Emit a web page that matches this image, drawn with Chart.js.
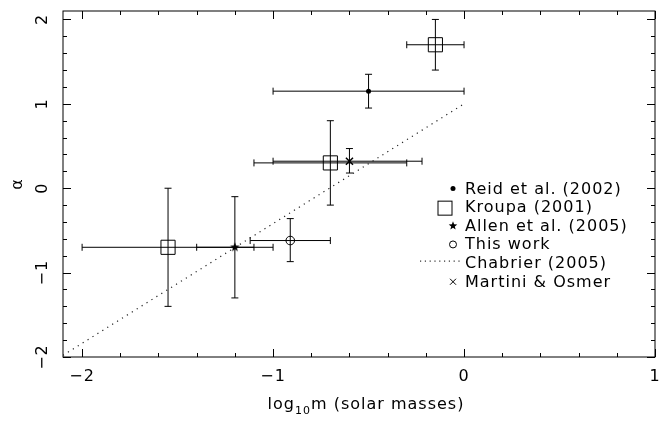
<!DOCTYPE html>
<html>
<head>
<meta charset="utf-8">
<script src="https://cdn.jsdelivr.net/npm/chart.js@4"></script>
<style>
  html, body { margin: 0; padding: 0; background: #fff; }
  canvas { display: block; }
</style>
</head>
<body>
<canvas id="imfChart" width="672" height="425"></canvas>
<script>
// x = log10 m (solar masses), y = alpha; Lo/Hi are the error bar ends
const reidX = [-0.5], reidY = [1.15];
const reidXLo = [-1.0], reidXHi = [0.0], reidYLo = [0.95], reidYHi = [1.35];

const kroupaX = [-1.55, -0.7, -0.15], kroupaY = [-0.7, 0.3, 1.7];
const kroupaXLo = [-2.0, -1.1, -0.3], kroupaXHi = [-1.1, -0.3, 0.0];
const kroupaYLo = [-1.4, -0.2, 1.4], kroupaYHi = [0.0, 0.8, 2.0];

const allenX = [-1.2], allenY = [-0.7];
const allenXLo = [-1.4], allenXHi = [-1.0], allenYLo = [-1.3], allenYHi = [-0.1];

const thisWorkX = [-0.91], thisWorkY = [-0.62];
const thisWorkXLo = [-1.12], thisWorkXHi = [-0.70], thisWorkYLo = [-0.87], thisWorkYHi = [-0.36];

const chabrierX = [-2.1, 0.0], chabrierY = [-1.98, 1.0];

const martiniX = [-0.6], martiniY = [0.32];
const martiniXLo = [-1.0], martiniXHi = [-0.22], martiniYLo = [0.18], martiniYHi = [0.47];

const xTickValues = [-2, -1, 0, 1];
const yTickValues = [-2, -1, 0, 1, 2];
const legendLabels = ['Reid et al. (2002)', 'Kroupa (2001)', 'Allen et al. (2005)', 'This work', 'Chabrier (2005)', 'Martini & Osmer'];

const FONT = '"DejaVu Sans", sans-serif';

function toPoints(xs, ys) {
  return xs.map((x, i) => ({ x: x, y: ys[i] }));
}

function makeStar(r) {
  const c = document.createElement('canvas');
  c.width = c.height = Math.ceil(r * 2 + 2);
  const g = c.getContext('2d');
  drawStar(g, c.width / 2, c.height / 2, r);
  return c;
}

function drawStar(g, cx, cy, r) {
  g.beginPath();
  for (let i = 0; i < 10; i++) {
    const rr = i % 2 === 0 ? r : r * 0.42;
    const a = -Math.PI / 2 + i * Math.PI / 5;
    g.lineTo(cx + rr * Math.cos(a), cy + rr * Math.sin(a));
  }
  g.closePath();
  g.fillStyle = '#000';
  g.fill();
}

// error bars, indexed by dataset
const errorBars = [
  { xLo: reidXLo, xHi: reidXHi, yLo: reidYLo, yHi: reidYHi },
  { xLo: kroupaXLo, xHi: kroupaXHi, yLo: kroupaYLo, yHi: kroupaYHi },
  { xLo: allenXLo, xHi: allenXHi, yLo: allenYLo, yHi: allenYHi },
  { xLo: thisWorkXLo, xHi: thisWorkXHi, yLo: thisWorkYLo, yHi: thisWorkYHi },
  null,
  { xLo: martiniXLo, xHi: martiniXHi, yLo: martiniYLo, yHi: martiniYHi }
];

const errorBarPlugin = {
  id: 'errorBars',
  beforeDatasetsDraw(chart) {
    const ctx = chart.ctx;
    const xs = chart.scales.x, ys = chart.scales.y;
    const cap = 3.5;
    ctx.save();
    ctx.strokeStyle = '#000';
    ctx.lineWidth = 1;
    chart.data.datasets.forEach((ds, di) => {
      const eb = errorBars[di];
      if (!eb) return;
      ds.data.forEach((p, i) => {
        const px = xs.getPixelForValue(p.x), py = ys.getPixelForValue(p.y);
        const x0 = xs.getPixelForValue(eb.xLo[i]), x1 = xs.getPixelForValue(eb.xHi[i]);
        const y0 = ys.getPixelForValue(eb.yLo[i]), y1 = ys.getPixelForValue(eb.yHi[i]);
        ctx.beginPath();
        ctx.moveTo(x0, py); ctx.lineTo(x1, py);
        ctx.moveTo(x0, py - cap); ctx.lineTo(x0, py + cap);
        ctx.moveTo(x1, py - cap); ctx.lineTo(x1, py + cap);
        ctx.moveTo(px, y0); ctx.lineTo(px, y1);
        ctx.moveTo(px - cap, y0); ctx.lineTo(px + cap, y0);
        ctx.moveTo(px - cap, y1); ctx.lineTo(px + cap, y1);
        ctx.stroke();
      });
    });
    ctx.restore();
  }
};

const framePlugin = {
  id: 'frame',
  afterDraw(chart) {
    const ctx = chart.ctx;
    const a = chart.chartArea;
    const xs = chart.scales.x, ys = chart.scales.y;
    ctx.save();
    ctx.strokeStyle = '#000';
    ctx.lineWidth = 1;
    ctx.strokeRect(a.left, a.top, a.right - a.left, a.bottom - a.top);

    // inward ticks on all four sides
    ctx.beginPath();
    for (let i = -10; i <= 5; i++) {
      const v = i * 0.2;
      if (v < xs.min - 1e-9 || v > xs.max + 1e-9) continue;
      const len = i % 5 === 0 ? 8 : 4;
      const px = Math.round(xs.getPixelForValue(v)) + 0.5;
      ctx.moveTo(px, a.bottom); ctx.lineTo(px, a.bottom - len);
      ctx.moveTo(px, a.top); ctx.lineTo(px, a.top + len);
    }
    for (let i = -10; i <= 10; i++) {
      const v = i * 0.2;
      if (v < ys.min - 1e-9 || v > ys.max + 1e-9) continue;
      const len = i % 5 === 0 ? 8 : 4;
      const py = Math.round(ys.getPixelForValue(v)) + 0.5;
      ctx.moveTo(a.left, py); ctx.lineTo(a.left + len, py);
      ctx.moveTo(a.right, py); ctx.lineTo(a.right - len, py);
    }
    ctx.stroke();

    ctx.fillStyle = '#000';
    ctx.font = '16px ' + FONT;
    ctx.letterSpacing = '1px';
    ctx.textAlign = 'center';
    ctx.textBaseline = 'alphabetic';
    xTickValues.forEach(v => {
      const label = v < 0 ? '\u2212' + Math.abs(v) : String(v);
      ctx.fillText(label, xs.getPixelForValue(v), 381);
    });
    // y tick labels, rotated like the original
    yTickValues.forEach(v => {
      const label = v < 0 ? '\u2212' + Math.abs(v) : String(v);
      ctx.save();
      ctx.translate(43, ys.getPixelForValue(v));
      ctx.rotate(-Math.PI / 2);
      ctx.textBaseline = 'middle';
      ctx.fillText(label, 0, 0);
      ctx.restore();
    });

    // axis titles
    ctx.save();
    ctx.translate(18, (a.top + a.bottom) / 2);
    ctx.rotate(-Math.PI / 2);
    ctx.textBaseline = 'middle';
    ctx.fillText('\u03b1', 0, 0);
    ctx.restore();

    const partA = 'log', partB = '10', partC = 'm (solar masses)';
    ctx.textAlign = 'left';
    ctx.font = '16px ' + FONT;
    const wA = ctx.measureText(partA).width, wC = ctx.measureText(partC).width;
    ctx.font = '11px ' + FONT;
    const wB = ctx.measureText(partB).width;
    let tx = 366 - (wA + wB + wC) / 2;
    ctx.font = '16px ' + FONT;
    ctx.fillText(partA, tx, 409);
    tx += wA;
    ctx.font = '11px ' + FONT;
    ctx.fillText(partB, tx, 414);
    tx += wB;
    ctx.font = '16px ' + FONT;
    ctx.fillText(partC, tx, 409);

    // legend
    const textX = 465, symX = 453, base0 = 193.5, step = 18.65;
    ctx.font = '16px ' + FONT;
    legendLabels.forEach((label, i) => {
      const base = base0 + i * step;
      ctx.fillText(label, textX, base);
      const sy = base - 5;
      ctx.beginPath();
      if (i === 0) {
        ctx.arc(symX, sy, 2.5, 0, Math.PI * 2);
        ctx.fill();
      } else if (i === 1) {
        ctx.strokeRect(438, base - 11, 14, 14);
      } else if (i === 2) {
        drawStar(ctx, symX, sy, 4.5);
      } else if (i === 3) {
        ctx.arc(symX, sy, 3.5, 0, Math.PI * 2);
        ctx.stroke();
      } else if (i === 4) {
        ctx.setLineDash([1.2, 3.6]);
        ctx.moveTo(420, base - 7); ctx.lineTo(462, base - 7);
        ctx.stroke();
        ctx.setLineDash([]);
      } else {
        ctx.moveTo(symX - 3, sy - 3); ctx.lineTo(symX + 3, sy + 3);
        ctx.moveTo(symX - 3, sy + 3); ctx.lineTo(symX + 3, sy - 3);
        ctx.stroke();
      }
    });
    ctx.restore();
  }
};

const ctx = document.getElementById('imfChart').getContext('2d');
new Chart(ctx, {
  type: 'scatter',
  data: {
    datasets: [
      { label: legendLabels[0], data: toPoints(reidX, reidY), pointStyle: 'circle', pointRadius: 2.5, backgroundColor: '#000', borderColor: '#000', borderWidth: 0 },
      { label: legendLabels[1], data: toPoints(kroupaX, kroupaY), pointStyle: 'rect', pointRadius: 10, backgroundColor: 'rgba(0,0,0,0)', borderColor: '#000', borderWidth: 1 },
      { label: legendLabels[2], data: toPoints(allenX, allenY), pointStyle: makeStar(5), pointRadius: 5 },
      { label: legendLabels[3], data: toPoints(thisWorkX, thisWorkY), pointStyle: 'circle', pointRadius: 4.3, backgroundColor: 'rgba(0,0,0,0)', borderColor: '#000', borderWidth: 1 },
      { label: legendLabels[4], data: toPoints(chabrierX, chabrierY), showLine: true, pointRadius: 0, borderColor: '#222', borderWidth: 1.2, borderDash: [1.2, 4.6], fill: false },
      { label: legendLabels[5], data: toPoints(martiniX, martiniY), pointStyle: 'crossRot', pointRadius: 5, borderColor: '#000', borderWidth: 1.5 }
    ]
  },
  options: {
    responsive: false,
    animation: false,
    devicePixelRatio: 1,
    layout: { padding: { left: 63, top: 8, right: 17, bottom: 68 } },
    scales: {
      x: { type: 'linear', min: -2.1, max: 1.0, display: false },
      y: { type: 'linear', min: -2.0, max: 2.1, display: false }
    },
    plugins: {
      legend: { display: false },
      tooltip: { enabled: false }
    }
  },
  plugins: [errorBarPlugin, framePlugin]
});
</script>
</body>
</html>
